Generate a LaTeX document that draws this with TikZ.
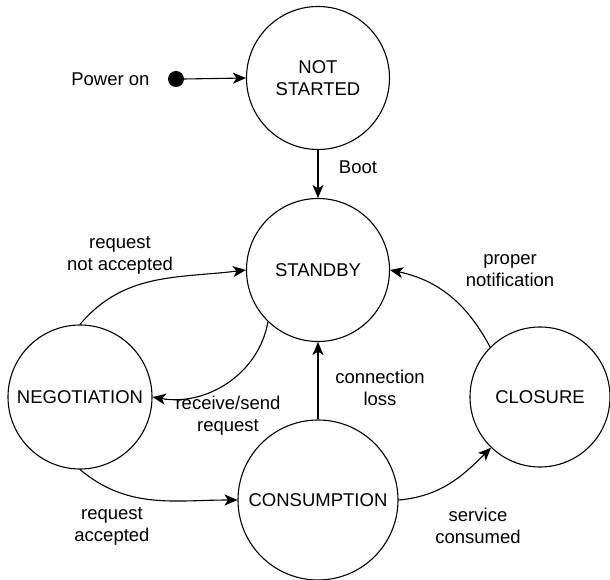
\documentclass[tikz,border=0pt]{standalone}
\usepackage{fontspec}
\setmainfont{Liberation Sans}
\usepackage{tikz}
\usetikzlibrary{arrows.meta,positioning}

\begin{document}
\begin{tikzpicture}[
  x=1pt, y=1pt,
  status/.style={circle, draw, line width=1.1pt, minimum size=143pt,
                 inner sep=0pt, align=center},
  trans/.style={-{Stealth[length=13pt, width=11pt, inset=3.5pt]}, line width=1.1pt},
  lab/.style={align=center},
  every node/.style={font=\fontsize{18.5}{22}\selectfont}]

\useasboundingbox (0,0) rectangle (610,580);

% ================= states =================================================
\node[status] (notstarted) at (318,502) {NOT\\STARTED};
\node[status] (standby)    at (318,310) {STANDBY};
\node[status, minimum size=144pt] (negotiation) at (80,183) {NEGOTIATION};
\node[status, minimum size=160pt] (consumption) at (318,80) {CONSUMPTION};
\node[status, minimum size=140pt] (closure)     at (540,183) {CLOSURE};

% ================= start point ============================================
\node[circle, fill=black, minimum size=16pt, inner sep=0pt] (poweron) at (176,501) {};
\node[anchor=east] (poweronlab) at (153,501) {Power on};
\draw[trans] (poweron.east) -- (notstarted.west);

% ================= transitions ============================================
\draw[trans] (notstarted.south) -- (standby.north);
\node (bootlab) at (358,413) {Boot};

\draw[trans] (negotiation.north) to[out=50, in=187] (standby.west);
\node[lab] (notacclab) at (120,325) {request\\not accepted};

\draw[trans] (standby.226) to[out=-100, in=-10] (negotiation.east);
\node[lab] (reqlab) at (228,164) {receive/send\\request};

\draw[trans] (negotiation.south) to[out=-40, in=180] (consumption.west);
\node[lab] (acclab) at (112,54) {request\\accepted};

\draw[trans] (consumption.north) -- (standby.south);
\node[lab] (losslab) at (380,192) {connection\\loss};

\draw[trans] (consumption.east) to[out=5, in=225] (closure.226);
\node[lab] (consumedlab) at (478,54) {service\\consumed};

\draw[trans] (closure.135) to[out=118, in=-12] (standby.east);
\node[lab] (notiflab) at (510,309) {proper\\notification};

\end{tikzpicture}
\end{document}
